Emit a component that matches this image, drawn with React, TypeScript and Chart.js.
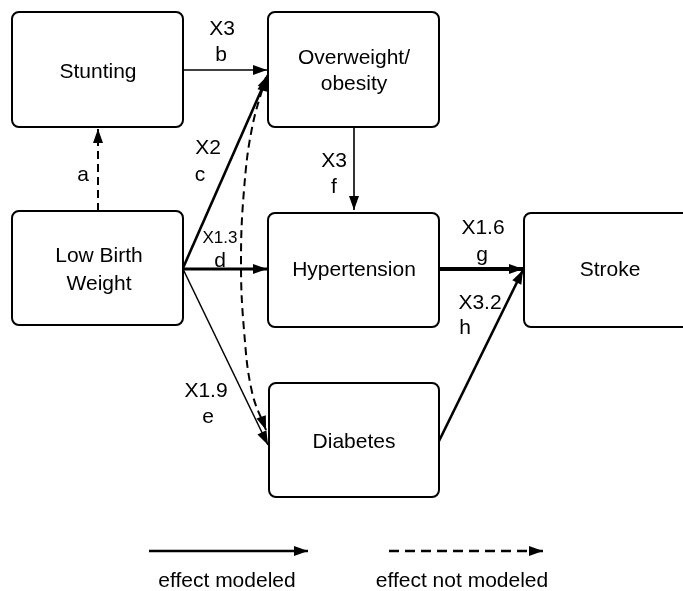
import React, { useEffect, useRef } from "react";
import { Chart, registerables } from "chart.js";
Chart.register(...registerables);

// Diagram coordinate space (x: 0..683, y: 0..591, y downward)
const nodeLabels = [["Stunting"], ["Overweight/", "obesity"], ["Low Birth", "Weight"], ["Hypertension"], ["Stroke"], ["Diabetes"]];
const nodeX1 = [12, 268, 12, 268, 524, 269];
const nodeX2 = [183, 439, 183, 439, 692, 439];
const nodeY1 = [12, 12, 211, 213, 213, 383];
const nodeY2 = [127, 127, 325, 327, 327, 497];
const nodeTextX = [98, 354, 99, 354, 610, 354];
const nodeTextY = [[72], [58, 84], [256, 284], [270], [270], [442]];

const edgeLetters = ["a", "b", "c", "d", "e", "f", "g", "h", ""];
const edgeEffects = ["", "X3", "X2", "X1.3", "X1.9", "X3", "X1.6", "X3.2", ""];
const edgeModeled = [false, true, true, true, true, true, true, true, false];
const edgeWeight = [2, 1.6, 2.6, 3.2, 1.5, 1.6, 4, 2.6, 2];
const edgePaths: number[][][] = [
  [[98, 211], [98, 129]],
  [[183, 70], [267, 70]],
  [[183, 268], [268, 75]],
  [[183, 269], [267, 269]],
  [[183, 269], [268, 445]],
  [[354, 127], [354, 210]],
  [[439, 269], [523, 269]],
  [[439, 441], [523, 270]],
  [[266, 430], [252, 392], [244, 330], [241, 262], [244, 190], [252, 128], [266, 77]],
];
const edgeBothEnds = [false, false, false, false, false, false, false, false, true];
const effectPos = [[0, 0], [222, 29], [208, 148], [220, 238], [206, 391], [334, 161], [483, 228], [480, 303], [0, 0]];
const letterPos = [[83, 175], [221, 55], [200, 175], [220, 261], [208, 417], [334, 187], [482, 255], [465, 328], [0, 0]];
const effectSize = [21, 21, 21, 17, 21, 21, 21, 21, 21];

const legendLabels = ["effect modeled", "effect not modeled"];
const legendModeled = [true, false];
const legendX1 = [149, 389];
const legendX2 = [308, 543];
const legendY = [551, 551];
const legendTextX = [227, 462];
const legendTextY = [581, 581];

const FONT = '"Liberation Sans", Arial, sans-serif';

export default function App() {
  const ref = useRef<HTMLCanvasElement | null>(null);
  useEffect(() => {
    const canvas = ref.current;
    if (!canvas) return;

    const datasets: any[] = edgePaths.map((path, i) => ({
      type: "line",
      data: path.map(([x, y]) => ({ x, y })),
      borderColor: "#000",
      borderWidth: edgeWeight[i],
      borderDash: edgeModeled[i] ? [] : [8, 5],
      pointRadius: 0,
      showLine: true,
      tension: path.length > 2 ? 0.4 : 0,
      fill: false,
      clip: false,
    }));
    legendLabels.forEach((_, i) => {
      datasets.push({
        type: "line",
        data: [{ x: legendX1[i], y: legendY[i] }, { x: legendX2[i], y: legendY[i] }],
        borderColor: "#000",
        borderWidth: 2.5,
        borderDash: legendModeled[i] ? [] : [10, 6],
        pointRadius: 0,
        showLine: true,
        fill: false,
        clip: false,
      });
    });

    const arrow = (ctx: CanvasRenderingContext2D, fx: number, fy: number, tx: number, ty: number) => {
      const ang = Math.atan2(ty - fy, tx - fx);
      const len = 14, hw = 5;
      ctx.save();
      ctx.fillStyle = "#000";
      ctx.beginPath();
      ctx.moveTo(tx, ty);
      ctx.lineTo(tx - len * Math.cos(ang) + hw * Math.sin(ang), ty - len * Math.sin(ang) - hw * Math.cos(ang));
      ctx.lineTo(tx - len * Math.cos(ang) - hw * Math.sin(ang), ty - len * Math.sin(ang) + hw * Math.cos(ang));
      ctx.closePath();
      ctx.fill();
      ctx.restore();
    };

    const diagramPlugin = {
      id: "diagram",
      beforeDatasetsDraw(chart: any) {
        const ctx: CanvasRenderingContext2D = chart.ctx;
        const sx = chart.scales.x, sy = chart.scales.y;
        ctx.save();
        ctx.fillStyle = "#fff";
        ctx.fillRect(0, 0, chart.width, chart.height);
        nodeLabels.forEach((lines, i) => {
          const x1 = sx.getPixelForValue(nodeX1[i]);
          const x2 = sx.getPixelForValue(nodeX2[i]);
          const y1 = sy.getPixelForValue(nodeY1[i]);
          const y2 = sy.getPixelForValue(nodeY2[i]);
          ctx.beginPath();
          (ctx as any).roundRect(x1, y1, x2 - x1, y2 - y1, 7);
          ctx.lineWidth = 2;
          ctx.strokeStyle = "#000";
          ctx.stroke();
          ctx.fillStyle = "#000";
          ctx.font = `21px ${FONT}`;
          ctx.textAlign = "center";
          ctx.textBaseline = "middle";
          lines.forEach((t, j) => {
            ctx.fillText(t, sx.getPixelForValue(nodeTextX[i]), sy.getPixelForValue(nodeTextY[i][j]));
          });
        });
        ctx.restore();
      },
      afterDatasetsDraw(chart: any) {
        const ctx: CanvasRenderingContext2D = chart.ctx;
        const sx = chart.scales.x, sy = chart.scales.y;
        edgePaths.forEach((path, i) => {
          const n = path.length;
          const p = (k: number) => [sx.getPixelForValue(path[k][0]), sy.getPixelForValue(path[k][1])];
          const a = p(n - 2), b = p(n - 1);
          arrow(ctx, a[0], a[1], b[0], b[1]);
          if (edgeBothEnds[i]) {
            const c = p(1), d = p(0);
            arrow(ctx, c[0], c[1], d[0], d[1]);
          }
        });
        legendLabels.forEach((_, i) => {
          arrow(ctx, sx.getPixelForValue(legendX1[i]), sy.getPixelForValue(legendY[i]), sx.getPixelForValue(legendX2[i]), sy.getPixelForValue(legendY[i]));
        });
        ctx.save();
        ctx.fillStyle = "#000";
        ctx.textAlign = "center";
        ctx.textBaseline = "middle";
        edgeLetters.forEach((l, i) => {
          if (edgeEffects[i]) {
            ctx.font = `${effectSize[i]}px ${FONT}`;
            ctx.fillText(edgeEffects[i], sx.getPixelForValue(effectPos[i][0]), sy.getPixelForValue(effectPos[i][1]));
          }
          if (l) {
            ctx.font = `21px ${FONT}`;
            ctx.fillText(l, sx.getPixelForValue(letterPos[i][0]), sy.getPixelForValue(letterPos[i][1]));
          }
        });
        ctx.font = `21px ${FONT}`;
        legendLabels.forEach((t, i) => {
          ctx.fillText(t, sx.getPixelForValue(legendTextX[i]), sy.getPixelForValue(legendTextY[i]));
        });
        ctx.restore();
      },
    };

    const chart = new Chart(canvas, {
      type: "scatter",
      data: { datasets },
      options: {
        responsive: false,
        animation: false,
        layout: { padding: 0 },
        plugins: { legend: { display: false }, tooltip: { enabled: false } },
        scales: {
          x: { type: "linear", min: 0, max: 683, display: false },
          y: { type: "linear", min: 0, max: 591, reverse: true, display: false },
        },
      },
      plugins: [diagramPlugin],
    } as any);
    return () => chart.destroy();
  }, []);

  return (
    <div style={{ position: "absolute", left: 0, top: 0, width: 683, height: 591, background: "#fff" }}>
      <canvas ref={ref} width={683} height={591} style={{ display: "block" }} />
    </div>
  );
}
